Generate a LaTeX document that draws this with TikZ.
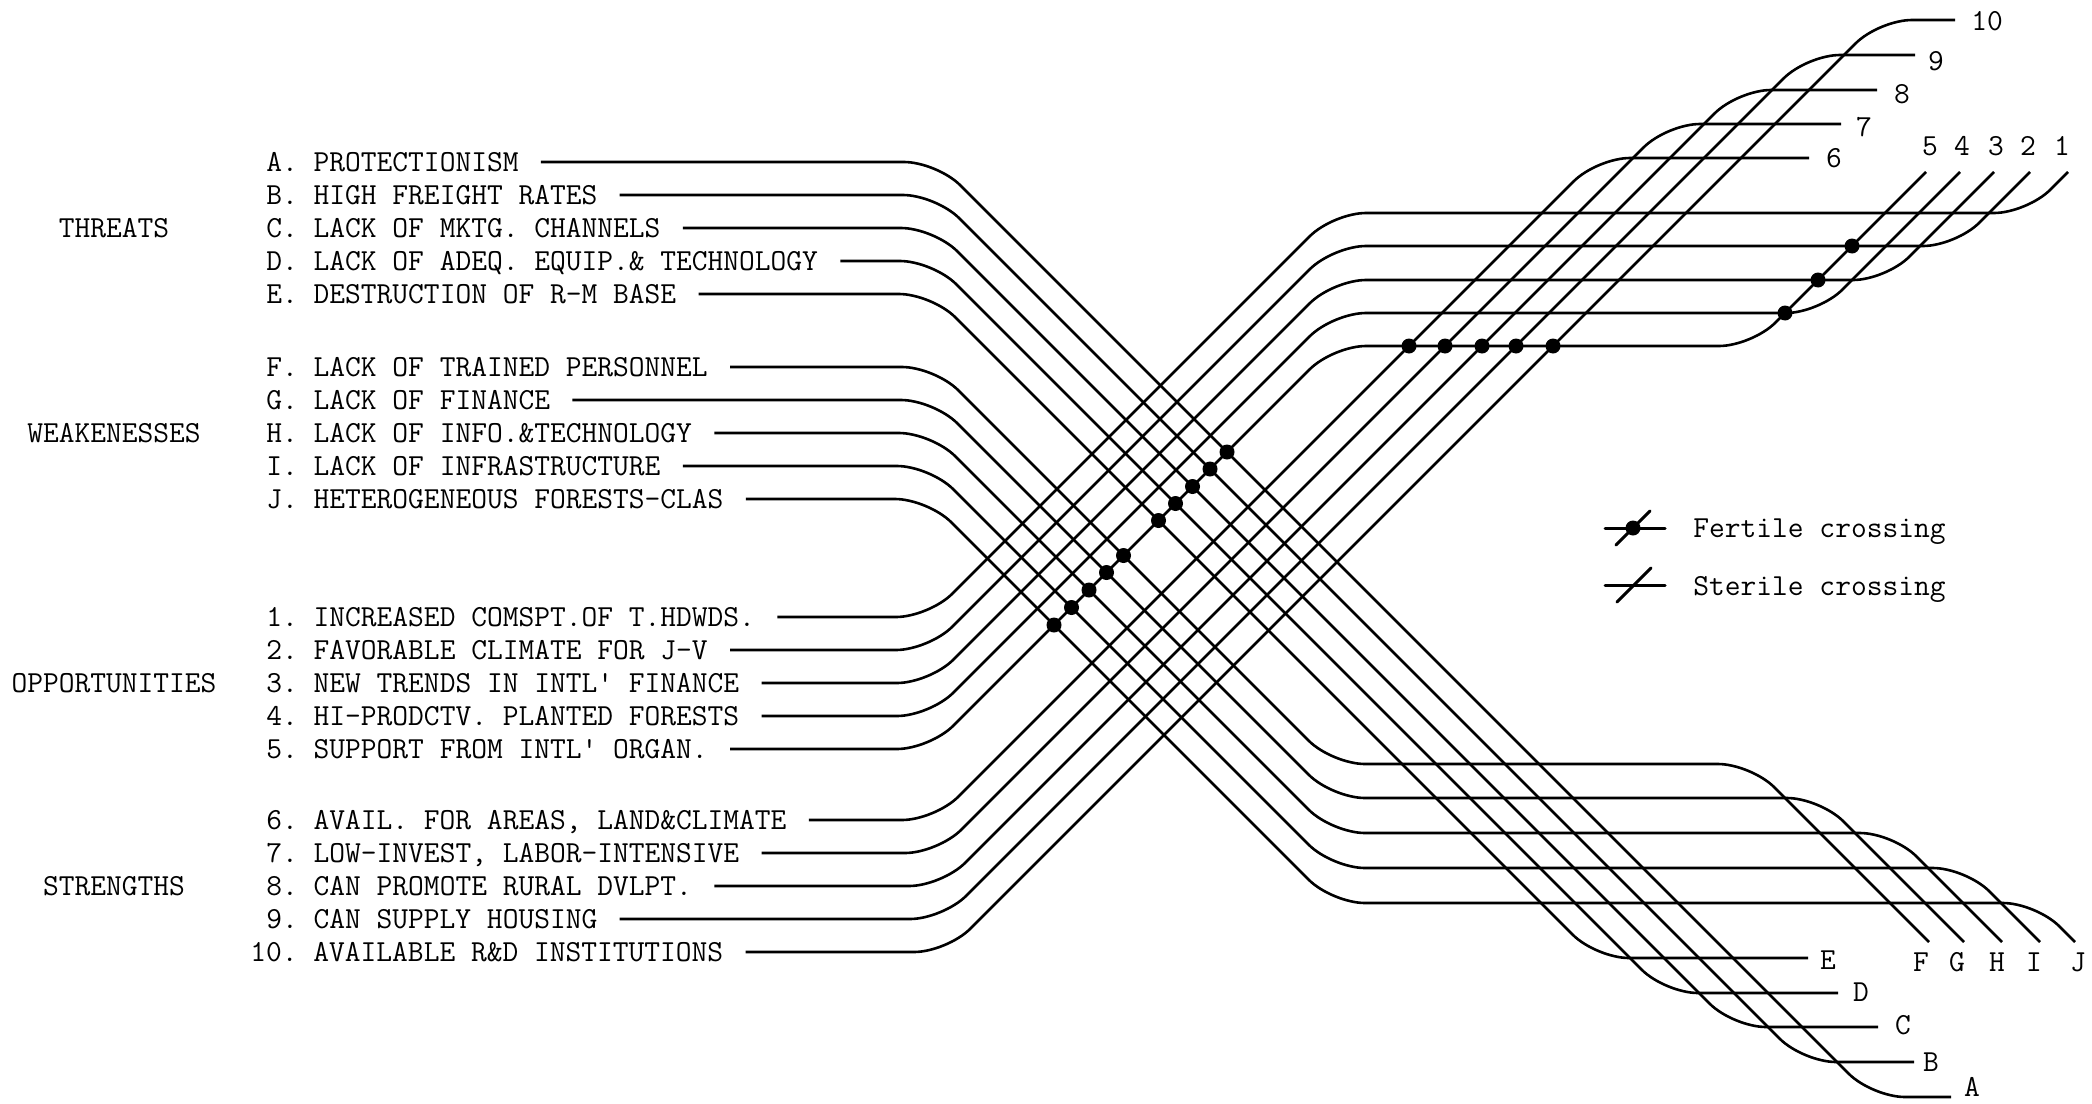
\documentclass[tikz,border=0pt]{standalone}
\usepackage{fontspec}
\usepackage{tikz}

\begin{document}
\begin{tikzpicture}[
  x=0.5pt, y=-0.5pt,
  item/.style={anchor=west, inner xsep=11pt, inner ysep=0pt, text height=9.4pt, text depth=0pt, font=\fontsize{15.3}{18}\selectfont\ttfamily\frenchspacing},
  group/.style={inner sep=0pt, text height=9.4pt, text depth=0pt, font=\fontsize{15.3}{18}\selectfont\ttfamily},
  tag/.style={inner sep=0pt, text height=9.4pt, text depth=0pt, font=\fontsize{15.3}{18}\selectfont\ttfamily},
  wire/.style={line width=1.3pt, rounded corners=16.5pt},
  legline/.style={line width=1.5pt, line cap=round},
  fert/.style={fill=black}
]
  \useasboundingbox (0,0) rectangle (2092,1103);

  \node[group] (threats) at (114,228) {THREATS};
  \node[group] (weak) at (114,433) {WEAKENESSES};
  \node[group] (oppor) at (114,683) {OPPORTUNITIES};
  \node[group] (strong) at (114,886) {STRENGTHS};

  \node[item] (tA) at (244,162) {A. PROTECTIONISM};
  \node[item] (tB) at (244,195) {B. HIGH FREIGHT RATES};
  \node[item] (tC) at (244,228) {C. LACK OF MKTG. CHANNELS};
  \node[item] (tD) at (244,261) {D. LACK OF ADEQ. EQUIP.\& TECHNOLOGY};
  \node[item] (tE) at (244,294) {E. DESTRUCTION OF R-M BASE};
  \node[item] (tF) at (244,367) {F. LACK OF TRAINED PERSONNEL};
  \node[item] (tG) at (244,400) {G. LACK OF FINANCE};
  \node[item] (tH) at (244,433) {H. LACK OF INFO.\&TECHNOLOGY};
  \node[item] (tI) at (244,466) {I. LACK OF INFRASTRUCTURE};
  \node[item] (tJ) at (244,499) {J. HETEROGENEOUS FORESTS-CLAS};

  \node[item] (t1) at (244,617) {1. INCREASED COMSPT.OF T.HDWDS.};
  \node[item] (t2) at (244,650) {2. FAVORABLE CLIMATE FOR J-V};
  \node[item] (t3) at (244,683) {3. NEW TRENDS IN INTL' FINANCE};
  \node[item] (t4) at (244,716) {4. HI-PRODCTV. PLANTED FORESTS};
  \node[item] (t5) at (244,749) {5. SUPPORT FROM INTL' ORGAN.};
  \node[item] (t6) at (244,820) {6. AVAIL. FOR AREAS, LAND\&CLIMATE};
  \node[item] (t7) at (244,853) {7. LOW-INVEST, LABOR-INTENSIVE};
  \node[item] (t8) at (244,886) {8. CAN PROMOTE RURAL DVLPT.};
  \node[item] (t9) at (244,919) {9. CAN SUPPLY HOUSING};
  \node[item] (t10) at (228,952) {10. AVAILABLE R\&D INSTITUTIONS};

  \coordinate (eA) at (1951,1097);
  \coordinate (eB) at (1914,1062);
  \coordinate (eC) at (1878,1027);
  \coordinate (eD) at (1838,993);
  \coordinate (eE) at (1808,958);
  \coordinate (sF) at (1929,942);
  \coordinate (sG) at (1964,942);
  \coordinate (sH) at (2002,942);
  \coordinate (sI) at (2040,942);
  \coordinate (sJ) at (2075,942);
  \coordinate (s1) at (2068,172);
  \coordinate (s2) at (2030,172);
  \coordinate (s3) at (1994,172);
  \coordinate (s4) at (1960,172);
  \coordinate (s5) at (1926,172);
  \coordinate (e6) at (1809,158);
  \coordinate (e7) at (1841,124);
  \coordinate (e8) at (1877,90);
  \coordinate (e9) at (1915,55);
  \coordinate (e10) at (1955,20);

  \node[tag] (lA) at (1972,1087) {A};
  \node[tag] (lB) at (1931,1062) {B};
  \node[tag] (lC) at (1903,1025) {C};
  \node[tag] (lD) at (1861,992) {D};
  \node[tag] (lE) at (1828,960) {E};
  \node[tag] (lF) at (1921,962) {F};
  \node[tag] (lG) at (1957,962) {G};
  \node[tag] (lH) at (1997,962) {H};
  \node[tag] (lI) at (2034,962) {I};
  \node[tag] (lJ) at (2078,962) {J};
  \node[tag] (l5) at (1930,146) {5};
  \node[tag] (l4) at (1962,146) {4};
  \node[tag] (l3) at (1996,146) {3};
  \node[tag] (l2) at (2028,146) {2};
  \node[tag] (l1) at (2062,146) {1};
  \node[tag] (l6) at (1834,158) {6};
  \node[tag] (l7) at (1864,127) {7};
  \node[tag] (l8) at (1902,94) {8};
  \node[tag] (l9) at (1936,61) {9};
  \node[tag] (l10) at (1987,21) {10};

  \draw[wire] (tA.east) -- (937,162) -- (1872,1097) -- (eA);
  \draw[wire] (tB.east) -- (936,195) -- (1803,1062) -- (eB);
  \draw[wire] (tC.east) -- (934,228) -- (1733,1027) -- (eC);
  \draw[wire] (tD.east) -- (933,261) -- (1665,993) -- (eD);
  \draw[wire] (tE.east) -- (932,294) -- (1596,958) -- (eE);
  \draw[wire] (tF.east) -- (935,367) -- (1332,764) -- (1751,764) -- (sF);
  \draw[wire] (tG.east) -- (934,400) -- (1332,798) -- (1820,798) -- (sG);
  \draw[wire] (tH.east) -- (932,433) -- (1332,833) -- (1893,833) -- (sH);
  \draw[wire] (tI.east) -- (930,466) -- (1332,868) -- (1966,868) -- (sI);
  \draw[wire] (tJ.east) -- (928,499) -- (1332,903) -- (2036,903) -- (sJ);

  \draw[wire] (t1.east) -- (929,617) -- (1333,213) -- (2027,213) -- (s1);
  \draw[wire] (t2.east) -- (929,650) -- (1333,246) -- (1956,246) -- (s2);
  \draw[wire] (t3.east) -- (930,683) -- (1333,280) -- (1886,280) -- (s3);
  \draw[wire] (t4.east) -- (930,716) -- (1333,313) -- (1819,313) -- (s4);
  \draw[wire] (t5.east) -- (930,749) -- (1333,346) -- (1752,346) -- (s5);
  \draw[wire] (t6.east) -- (935,820) -- (1597,158) -- (e6);
  \draw[wire] (t7.east) -- (938,853) -- (1667,124) -- (e7);
  \draw[wire] (t8.east) -- (942,886) -- (1738,90) -- (e8);
  \draw[wire] (t9.east) -- (943,919) -- (1807,55) -- (e9);
  \draw[wire] (t10.east) -- (947,952) -- (1879,20) -- (e10);

  \fill[fert] (1227,452) circle[radius=3.75pt];
  \fill[fert] (1210,469) circle[radius=3.75pt];
  \fill[fert] (1192.5,486.5) circle[radius=3.75pt];
  \fill[fert] (1175.5,503.5) circle[radius=3.75pt];
  \fill[fert] (1158.5,520.5) circle[radius=3.75pt];
  \fill[fert] (1123.5,555.5) circle[radius=3.75pt];
  \fill[fert] (1106.5,572.5) circle[radius=3.75pt];
  \fill[fert] (1089,590) circle[radius=3.75pt];
  \fill[fert] (1071.5,607.5) circle[radius=3.75pt];
  \fill[fert] (1054,625) circle[radius=3.75pt];
  \fill[fert] (1409,346) circle[radius=3.75pt];
  \fill[fert] (1445,346) circle[radius=3.75pt];
  \fill[fert] (1482,346) circle[radius=3.75pt];
  \fill[fert] (1516,346) circle[radius=3.75pt];
  \fill[fert] (1553,346) circle[radius=3.75pt];
  \fill[fert] (1852,246) circle[radius=3.75pt];
  \fill[fert] (1818,280) circle[radius=3.75pt];
  \fill[fert] (1785,313) circle[radius=3.75pt];

  \draw[legline] (1605,528) -- (1665,528);
  \draw[legline] (1616,545) -- (1650,511);
  \fill[fert] (1633,528) circle[radius=3.75pt];
  \node[item] (fertile) at (1671,528) {Fertile crossing};
  \draw[legline] (1605,585) -- (1665,585);
  \draw[legline] (1617,602) -- (1651,568);
  \node[item] (sterile) at (1671,586) {Sterile crossing};
\end{tikzpicture}
\end{document}
